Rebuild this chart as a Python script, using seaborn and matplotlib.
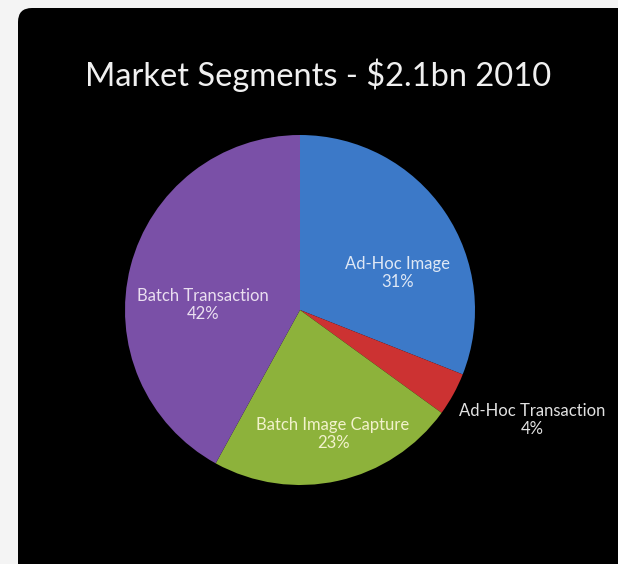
import matplotlib
matplotlib.use("Agg")
import matplotlib.pyplot as plt
from matplotlib.patches import FancyBboxPatch
import seaborn as sns

# ---- data ----
segments = ["Ad-Hoc Image", "Ad-Hoc Transaction", "Batch Image Capture", "Batch Transaction"]
shares = [31, 4, 23, 42]
colors = ["#3c79c8", "#cc3232", "#8db23b", "#7a50a7"]
label_colors = ["#dfe8f5", "#e2e2e2", "#f2f2cc", "#eadff0"]
# label anchor positions (pie data coords, radius = 1)
label_pos = [(0.557, 0.212), (1.325, -0.629), (0.189, -0.709), (-0.554, 0.029)]
title = "Market Segments - $2.1bn 2010"

sns.set_theme(style="white")
plt.rcParams["font.family"] = ["Lato", "DejaVu Sans"]

W, H = 618, 564
fig = plt.figure(figsize=(W / 100, H / 100), dpi=100, facecolor="#f4f4f4")

# background axes holding the black rounded panel
bg = fig.add_axes([0, 0, 1, 1], zorder=-5)
bg.set_xlim(0, W)
bg.set_ylim(H, 0)
bg.axis("off")
panel = FancyBboxPatch((18, 8), W + 40, H + 40,
                       boxstyle="round,pad=0,rounding_size=14",
                       facecolor="black", edgecolor="none")
bg.add_patch(panel)

fig.text(318 / W, 1 - 75 / H, title, ha="center", va="center",
         color="#f0f0f0", fontsize=23.5)

cx, cy, r = 300, 310, 175
ax = fig.add_axes([(cx - r) / W, (H - cy - r) / H, 2 * r / W, 2 * r / H], zorder=1)
ax.set_facecolor("none")
ax.pie(shares, colors=colors, startangle=90, counterclock=False,
       radius=1, wedgeprops=dict(linewidth=0))
ax.set_xlim(-1, 1)
ax.set_ylim(-1, 1)
ax.set_aspect("auto")
ax.axis("off")

for name, val, (x, y), tc in zip(segments, shares, label_pos, label_colors):
    ax.text(x, y, f"{name}\n{val}%", ha="center", va="center",
            color=tc, fontsize=12, linespacing=1.12, clip_on=False)

fig.savefig("out.png", dpi=100, facecolor=fig.get_facecolor())
